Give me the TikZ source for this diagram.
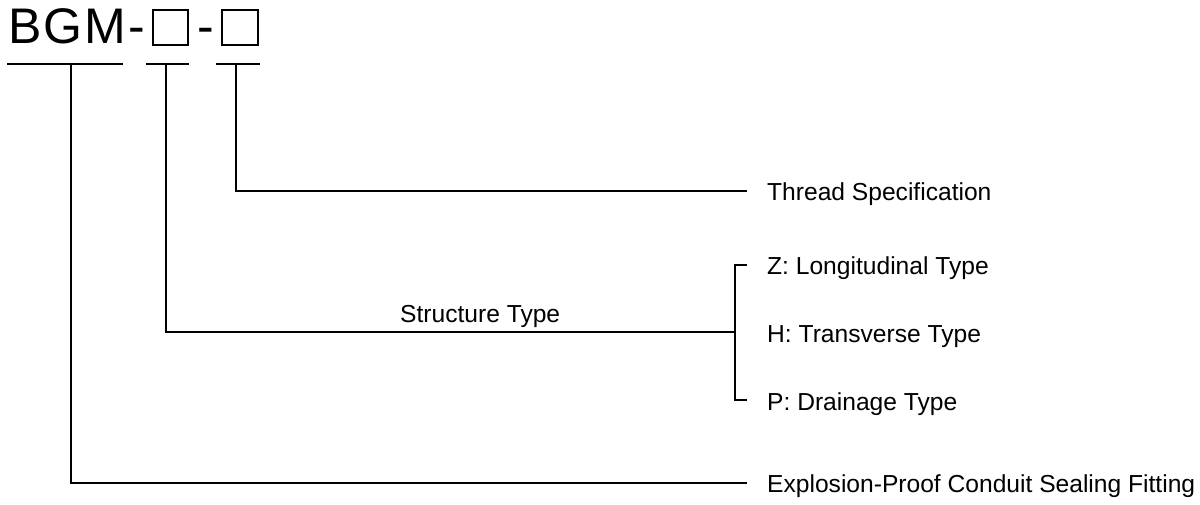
\documentclass[tikz,border=0pt]{standalone}
\usepackage{fontspec}
\setmainfont{Liberation Sans}
\begin{document}
\begin{tikzpicture}[x=1pt,y=-1pt,
  lbl/.style={anchor=base west, inner sep=0pt, font=\fontsize{24.6}{28}\selectfont},
  ttl/.style={anchor=base west, inner sep=0pt, font=\fontsize{50}{56}\selectfont\addfontfeatures{LetterSpace=4}},
  codebox/.style={draw, line width=1.8pt, minimum width=35.5pt, minimum height=35.5pt, inner sep=0pt},
  conn/.style={line width=1.8pt, line cap=rect}
]
\useasboundingbox[fill=white] (0,0) rectangle (1200,504);

% title
\node[ttl] (bgm) at (8.4,43) {BGM};
\node[ttl] (h1) at (128,43) {-};
\node[codebox] (b1) at (170.5,27.5) {};
\node[ttl] (h2) at (197,43) {-};
\node[codebox] (b2) at (240,27.5) {};

% underlines
\coordinate (u1l) at (8,64);   \coordinate (u1r) at (122,64);  \coordinate (u1m) at (71,64);
\coordinate (u2l) at (147,64); \coordinate (u2r) at (188,64);  \coordinate (u2m) at (166,64);
\coordinate (u3l) at (217,64); \coordinate (u3r) at (259,64);  \coordinate (u3m) at (236,64);
\draw[conn] (u1l) -- (u1r);
\draw[conn] (u2l) -- (u2r);
\draw[conn] (u3l) -- (u3r);

% labels
\node[lbl] (thread) at (767,200.5) {Thread Specification};
\node[lbl] (zt) at (767,274.5) {Z: Longitudinal Type};
\node[lbl] (ht) at (767,342) {H: Transverse Type};
\node[lbl] (pt) at (767,410) {P: Drainage Type};
\node[lbl] (ex) at (767,492.5) {Explosion-Proof Conduit Sealing Fitting};
\node[lbl] (st) at (400,322) {Structure Type};

% connector end points
\coordinate (threadend) at (746,191);
\coordinate (exend) at (746,483);
\coordinate (brtop) at (735,265);
\coordinate (brbot) at (735,400);
\coordinate (brmid) at (735,332);
\coordinate (ztick) at (746,265);
\coordinate (ptick) at (746,400);

% connectors
\draw[conn] (u3m) |- (threadend);
\draw[conn] (u2m) |- (brmid);
\draw[conn] (u1m) |- (exend);
\draw[conn] (ztick) -- (brtop) -- (brbot) -- (ptick);
\end{tikzpicture}
\end{document}
